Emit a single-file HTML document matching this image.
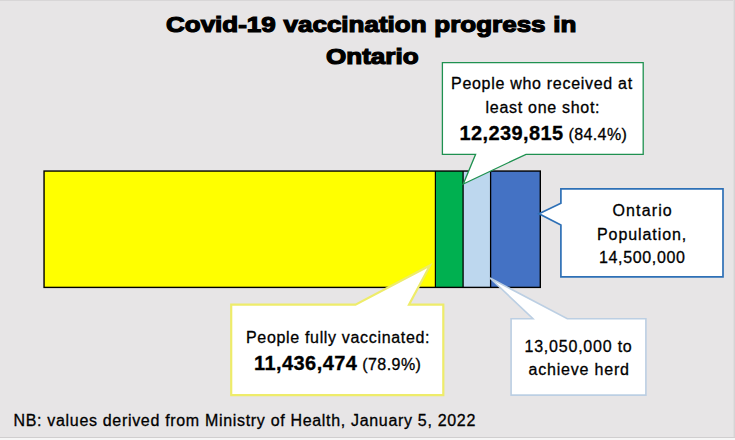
<!DOCTYPE html>
<html><head><meta charset="utf-8">
<style>
html,body{margin:0;padding:0;}
body{width:735px;height:440px;overflow:hidden;background:#e7e5e6;position:relative;font-family:"Liberation Sans",sans-serif;color:#000;}
svg{position:absolute;left:0;top:0;}
.t{position:absolute;white-space:nowrap;line-height:20px;}
.ti{font-weight:bold;-webkit-text-stroke:1.2px #000;word-spacing:0.5px;transform-origin:0 0;}
.c{color:#000;-webkit-text-stroke:0.3px #000;}
.b{font-weight:bold;font-size:20px;}
.bl{display:inline-block;width:0;height:0;vertical-align:baseline;}
</style></head><body>
<svg width="735" height="440" viewBox="0 0 735 440">
  <rect x="0" y="0" width="735" height="1" fill="#d8d6d7"/>
  <rect x="733" y="0" width="1" height="438" fill="#e0dedf"/><rect x="734" y="0" width="1" height="438" fill="#d6d4d5"/>
  <rect x="0" y="437" width="735" height="1" fill="#d0cecf"/>
  <rect x="0" y="438" width="735" height="2" fill="#f6f6f6"/>
  <rect x="44" y="171" width="391" height="117" fill="#ffff00"/>
  <rect x="435" y="171" width="28" height="117" fill="#00b050"/>
  <rect x="463" y="171" width="27" height="117" fill="#bdd7ee"/>
  <rect x="490" y="171" width="50" height="117" fill="#4472c4"/>
  <g stroke="#000" stroke-width="1.5" fill="none">
    <rect x="44.05" y="171.05" width="496.25" height="116.35" stroke-width="1.4"/>
    <line x1="435.4" y1="171" x2="435.4" y2="288" stroke-width="1.2"/>
    <line x1="463.1" y1="171" x2="463.1" y2="288" stroke-width="1.3"/>
    <line x1="490.6" y1="171" x2="490.6" y2="288" stroke-width="1.3"/>
  </g>
  <path d="M442.4 62.6 H643.2 V154.3 H526 L463.3 184 L475.6 154.3 H442.4 Z" fill="#fff" stroke="#1f9150" stroke-width="1.3"/>
  <path d="M560.9 188.9 H723 V276.9 H560.9 V225 L539 213.75 L560.9 203.3 Z" fill="#fff" stroke="#2e70b6" stroke-width="1.7"/>
  <path d="M231.2 304.7 H355.5 L430 265.5 L409 304.7 H443.3 V395.2 H231.2 Z" fill="#fff" stroke="#eeec6a" stroke-width="2.2"/>
  <path d="M511.1 318.75 H533 L490 278 L567.3 318.75 H645.9 V395.1 H511.1 Z" fill="#fff" stroke="#bccfe3" stroke-width="1.6"/>
</svg>
<div id="title1" class="t ti" style="left:166.00px;top:15.41px;font-size:22px;letter-spacing:0.000px;transform:scaleX(1.1812);">Covid-19 vaccination progress in<span class="bl"></span></div>
<div id="title2" class="t ti" style="left:326.00px;top:47.21px;font-size:22px;letter-spacing:0.000px;transform:scaleX(1.1838);">Ontario<span class="bl"></span></div>
<div id="g1" class="t c" style="left:451.00px;top:73.61px;font-size:16px;letter-spacing:0.705px;">People who received at<span class="bl"></span></div>
<div id="g2" class="t c" style="left:485.50px;top:97.61px;font-size:16px;letter-spacing:0.714px;">least one shot:<span class="bl"></span></div>
<div id="g3" class="t c" style="left:459.50px;top:122.50px;font-size:16px;letter-spacing:0.400px;"><span class="b">12,239,815</span> (84.4%)<span class="bl"></span></div>
<div id="b1" class="t c" style="left:612.50px;top:201.00px;font-size:16px;letter-spacing:1.133px;">Ontario<span class="bl"></span></div>
<div id="b2" class="t c" style="left:597.00px;top:225.00px;font-size:16px;letter-spacing:0.920px;">Population,<span class="bl"></span></div>
<div id="b3" class="t c" style="left:599.00px;top:247.91px;font-size:16px;letter-spacing:0.644px;">14,500,000<span class="bl"></span></div>
<div id="y1" class="t c" style="left:246.00px;top:327.81px;font-size:16px;letter-spacing:0.670px;">People fully vaccinated:<span class="bl"></span></div>
<div id="y2" class="t c" style="left:254.00px;top:352.70px;font-size:16px;letter-spacing:0.435px;"><span class="b">11,436,474</span> (78.9%)<span class="bl"></span></div>
<div id="lb1" class="t c" style="left:524.50px;top:336.81px;font-size:16px;letter-spacing:0.783px;">13,050,000 to<span class="bl"></span></div>
<div id="lb2" class="t c" style="left:528.50px;top:359.50px;font-size:16px;letter-spacing:0.800px;">achieve herd<span class="bl"></span></div>
<div id="nb" class="t c" style="left:13.50px;top:410.81px;font-size:16px;letter-spacing:0.679px;">NB: values derived from Ministry of Health, January 5, 2022<span class="bl"></span></div>
</body></html>
